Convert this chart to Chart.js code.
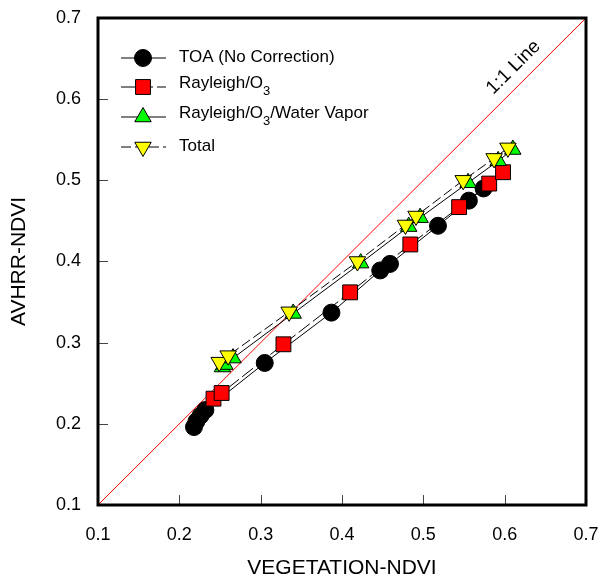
<!DOCTYPE html>
<html>
<head>
<meta charset="utf-8">
<script src="https://cdn.jsdelivr.net/npm/chart.js@4.4.1/dist/chart.umd.min.js"></script>
<style>
  html, body { margin: 0; padding: 0; background: #fff; }
  #wrap { width: 602px; height: 584px; }
</style>
</head>
<body>
<div id="wrap"><canvas id="chart"></canvas></div>
<script>
// values
const toaX = [0.218, 0.221, 0.226, 0.232, 0.305, 0.387, 0.447, 0.459, 0.518, 0.556, 0.574];
const toaY = [0.196, 0.203, 0.210, 0.217, 0.275, 0.337, 0.389, 0.397, 0.444, 0.475, 0.490];

const rayX = [0.242, 0.252, 0.328, 0.410, 0.484, 0.544, 0.581, 0.598];
const rayY = [0.231, 0.238, 0.298, 0.362, 0.421, 0.467, 0.496, 0.510];

const wvX = [0.253, 0.256, 0.266, 0.340, 0.423, 0.482, 0.496, 0.555, 0.592, 0.610];
const wvY = [0.270, 0.273, 0.281, 0.336, 0.398, 0.443, 0.454, 0.497, 0.524, 0.538];

const totX = [0.249, 0.260, 0.335, 0.419, 0.478, 0.491, 0.549, 0.587, 0.604];
const totY = [0.276, 0.284, 0.338, 0.400, 0.445, 0.456, 0.500, 0.527, 0.540];

const oneToOne = [0.1, 0.7];
const axisTicks = [0.1, 0.2, 0.3, 0.4, 0.5, 0.6, 0.7];

const FONT = "'Liberation Sans', Arial, sans-serif";

const pts = (xs, ys) => xs.map((x, i) => ({ x: x, y: ys[i] }));

// frame, inward ticks, legend and the "1:1 Line" label
const decorPlugin = {
  id: 'decor',
  beforeDatasetsDraw(chart) {
    const { ctx, chartArea: a, scales } = chart;
    ctx.save();
    ctx.strokeStyle = '#444';
    ctx.lineWidth = 1;
    axisTicks.slice(1, -1).forEach(v => {
      const px = Math.round(scales.x.getPixelForValue(v)) + 0.5;
      const py = Math.round(scales.y.getPixelForValue(v)) + 0.5;
      ctx.beginPath();
      ctx.moveTo(px, a.bottom); ctx.lineTo(px, a.bottom - 10);
      ctx.moveTo(a.left, py); ctx.lineTo(a.left + 10, py);
      ctx.stroke();
    });
    ctx.restore();
  },
  afterDatasetsDraw(chart) {
    const { ctx, chartArea: a, scales } = chart;
    ctx.save();
    ctx.strokeStyle = '#000';
    ctx.lineWidth = 3;
    ctx.strokeRect(a.left, a.top, a.right - a.left, a.bottom - a.top);

    // 1:1 label
    const lx = scales.x.getPixelForValue(0.625);
    const ly = scales.y.getPixelForValue(0.625);
    ctx.translate(lx - 11.5, ly - 11.5);
    ctx.rotate(-Math.PI / 4);
    ctx.fillStyle = '#000';
    ctx.font = '19px ' + FONT;
    ctx.textAlign = 'center';
    ctx.textBaseline = 'middle';
    ctx.fillText('1:1 Line', 0, 0);
    ctx.restore();

    // legend (TOA first, as in the figure)
    const rows = [58, 87, 117, 147];
    let r = 0;
    chart.data.datasets.slice().reverse().forEach(ds => {
      if (!ds.legendText) return;
      const y = rows[r++];
      ctx.save();
      ctx.strokeStyle = '#000';
      ctx.lineWidth = 1;
      ctx.setLineDash(ds.borderDash || []);
      ctx.beginPath();
      ctx.moveTo(121, y); ctx.lineTo(166, y);
      ctx.stroke();
      ctx.setLineDash([]);
      ctx.fillStyle = ds.pointBackgroundColor;
      ctx.strokeStyle = ds.pointBorderColor;
      ctx.lineWidth = ds.pointBorderWidth;
      Chart.helpers.drawPoint(ctx, {
        pointStyle: ds.pointStyle, rotation: ds.pointRotation || 0,
        radius: ds.pointRadius, borderWidth: ds.pointBorderWidth
      }, 143, y);
      // text with {n} subscripts
      const sub = ds.legendText.indexOf('{') >= 0;
      const ty = sub ? y - 4 : y - 1;
      ctx.fillStyle = '#000';
      ctx.textBaseline = 'middle';
      ctx.textAlign = 'left';
      let x = 179;
      ds.legendText.split(/(\{\d\})/).forEach(part => {
        if (!part) return;
        if (part[0] === '{') {
          ctx.font = '13px ' + FONT;
          const s = part.slice(1, -1);
          ctx.fillText(s, x, ty + 8);
          x += ctx.measureText(s).width;
        } else {
          ctx.font = '17px ' + FONT;
          ctx.fillText(part, x, ty);
          x += ctx.measureText(part).width;
        }
      });
      ctx.restore();
    });
  }
};

new Chart(document.getElementById('chart'), {
  type: 'scatter',
  data: {
    datasets: [
      {
        legendText: 'Total',
        data: pts(totX, totY),
        showLine: true,
        borderColor: '#000', borderWidth: 1, borderDash: [10, 4],
        pointStyle: 'triangle', pointRotation: 180, pointRadius: 9.5,
        pointBackgroundColor: '#ffff00', pointBorderColor: '#000', pointBorderWidth: 1,
        order: 0
      },
      {
        legendText: 'Rayleigh/O{3}/Water Vapor',
        data: pts(wvX, wvY),
        showLine: true,
        borderColor: '#000', borderWidth: 1,
        pointStyle: 'triangle', pointRadius: 9.5,
        pointBackgroundColor: '#00ff00', pointBorderColor: '#000', pointBorderWidth: 1,
        order: 1
      },
      {
        legendText: 'Rayleigh/O{3}',
        data: pts(rayX, rayY),
        showLine: true,
        borderColor: '#000', borderWidth: 1, borderDash: [14, 4],
        pointStyle: 'rect', pointRadius: 10.5,
        pointBackgroundColor: '#ff0000', pointBorderColor: '#000', pointBorderWidth: 1,
        order: 2
      },
      {
        legendText: 'TOA (No Correction)',
        data: pts(toaX, toaY),
        showLine: true,
        borderColor: '#000', borderWidth: 1,
        pointStyle: 'circle', pointRadius: 8.5,
        pointBackgroundColor: '#000', pointBorderColor: '#000', pointBorderWidth: 1,
        order: 3
      },
      {
        data: pts(oneToOne, oneToOne),
        showLine: true,
        borderColor: '#ff0000', borderWidth: 1,
        pointRadius: 0,
        order: 4
      }
    ]
  },
  options: {
    responsive: true,
    maintainAspectRatio: false,
    animation: false,
    layout: { padding: { top: 18, right: 16, left: 0, bottom: 0 } },
    plugins: { legend: { display: false }, tooltip: { enabled: false } },
    scales: {
      x: {
        type: 'linear', min: 0.1, max: 0.7,
        grid: { display: false }, border: { display: false },
        ticks: { stepSize: 0.1, callback: v => v.toFixed(1), color: '#000', font: { family: FONT, size: 18 }, padding: 11, maxRotation: 0 },
        title: { display: true, text: 'VEGETATION-NDVI', color: '#000', font: { family: FONT, size: 21 }, padding: 3 },
        afterFit: s => { s.height = 79; s.paddingLeft = 0; s.paddingRight = 0; }
      },
      y: {
        type: 'linear', min: 0.1, max: 0.7,
        grid: { display: false }, border: { display: false },
        ticks: { stepSize: 0.1, callback: v => v.toFixed(1), color: '#000', font: { family: FONT, size: 18 }, padding: 9 },
        title: { display: true, text: 'AVHRR-NDVI', color: '#000', font: { family: FONT, size: 21 }, padding: 7 },
        afterFit: s => { s.width = 98; s.paddingTop = 0; s.paddingBottom = 0; }
      }
    }
  },
  plugins: [decorPlugin]
});
</script>
</body>
</html>
